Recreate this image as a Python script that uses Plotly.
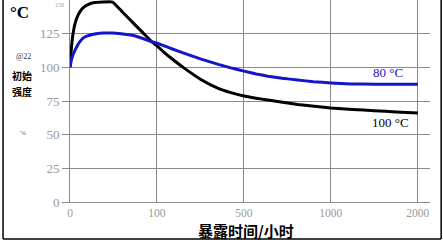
import numpy as np
import plotly.graph_objects as go

# Axis tick values (hours) and their evenly spaced positions (broken scale)
x_tick_hours = [0, 100, 500, 1000, 2000]
x_tick_labels = ["0", "100", "500", "1000", "2000"]
x_tick_pos = [0, 1, 2, 3, 4]
y_tick_vals = [0, 25, 50, 75, 100, 125]

# 100 °C series
black_hours = [0, 1, 2, 3.5, 6, 9.4, 14, 17.6, 22, 27, 38, 49, 60, 72, 84, 94, 100,
               130, 160, 227, 300, 382, 440, 500, 570, 638, 713, 810, 1000, 1250, 1500, 1750, 2000]
black_vals = [100, 110, 117, 125, 133, 139, 143.5, 145.5, 147, 148, 148.5, 148.5, 141.3, 133.4, 125.6, 119, 116,
              111.5, 107.5, 99.2, 91.2, 84.4, 81.2, 78.7, 77.1, 75.7, 74.2, 72.4, 69.8, 68.7, 67.8, 66.9, 66]

# 80 °C series
blue_hours = [0, 2, 5.9, 11.8, 17, 23.5, 30, 38.8, 48, 58.8, 70, 78.8, 94, 100,
              168, 227, 300, 382, 440, 500, 570, 638, 720, 810, 900, 1000, 1230, 1500, 2000]
blue_vals = [100, 106.5, 113, 119.5, 122.5, 124, 125, 125.5, 125.5, 125, 124, 122.5, 119, 118,
             113.8, 110.3, 106.3, 102.2, 99.6, 97.2, 95.1, 93.4, 91.9, 90.6, 89.3, 88.4, 87.7, 87.5, 87.5]


def to_pos(h):
    return np.interp(h, x_tick_hours, x_tick_pos)


fig = go.Figure()
fig.add_trace(go.Scatter(x=to_pos(black_hours), y=black_vals, mode="lines",
                         line=dict(color="#000000", width=3, shape="spline", smoothing=0.3),
                         hoverinfo="skip", showlegend=False))
fig.add_trace(go.Scatter(x=to_pos(blue_hours), y=blue_vals, mode="lines",
                         line=dict(color="#1414c8", width=3, shape="spline", smoothing=0.3),
                         hoverinfo="skip", showlegend=False))

grid = "#8a8a8a"
serif = "Liberation Serif, Times New Roman, serif"
cjk = "Noto Sans CJK SC, sans-serif"

fig.update_layout(
    width=443, height=243,
    margin=dict(l=70, r=13, t=0, b=41),
    paper_bgcolor="white", plot_bgcolor="white",
    xaxis=dict(range=[0, 4.14], tickvals=x_tick_pos, ticktext=x_tick_labels,
               showgrid=True, gridcolor=grid, gridwidth=1,
               showline=True, linecolor=grid, linewidth=1,
               ticks="", tickfont=dict(family=serif, size=11.5, color="#999999"),
               zeroline=False, fixedrange=True),
    yaxis=dict(range=[0, 150], tickvals=y_tick_vals,
               showgrid=True, gridcolor=grid, gridwidth=1,
               showline=True, linecolor=grid, linewidth=1,
               ticks="outside", ticklen=7, tickcolor=grid,
               tickfont=dict(family=serif, size=13, color="#999999"),
               zeroline=False, fixedrange=True),
    font=dict(family=serif),
)

# border (left, right, bottom)
fig.add_shape(type="line", xref="paper", yref="paper", x0=-0.186, x1=-0.186, y0=-0.183, y1=1.05,
              line=dict(color="black", width=1.5))
fig.add_shape(type="line", xref="paper", yref="paper", x0=1.031, x1=1.031, y0=-0.183, y1=1.05,
              line=dict(color="black", width=1.5))
fig.add_shape(type="line", xref="paper", yref="paper", x0=-0.186, x1=1.031, y0=-0.183, y1=-0.183,
              line=dict(color="black", width=1.5))

ann = [
    dict(text="150", x=-0.012, y=1.0, xanchor="right", yanchor="top",
         font=dict(family=serif, size=6, color="#999999")),
    dict(text="<b>°C</b>", x=-0.172, y=0.94, xanchor="left", yanchor="middle",
         font=dict(family=serif, size=17, color="black")),
    dict(text="@22", x=-0.155, y=0.72, xanchor="left", yanchor="middle",
         font=dict(family=serif, size=8, color="#333333")),
    dict(text="<b>初始</b>", x=-0.167, y=0.626, xanchor="left", yanchor="middle",
         font=dict(family=cjk, size=10, color="black")),
    dict(text="<b>强度</b>", x=-0.167, y=0.548, xanchor="left", yanchor="middle",
         font=dict(family=cjk, size=10, color="black")),
    dict(text="%", x=-0.145, y=0.34, xanchor="left", yanchor="middle",
         font=dict(family=serif, size=7, color="#4a7a6a")),
    dict(text="80 °C", x=0.882, y=0.64, xanchor="center", yanchor="middle",
         font=dict(family=serif, size=13, color="#1414c8")),
    dict(text="100 °C", x=0.889, y=0.396, xanchor="center", yanchor="middle",
         font=dict(family=serif, size=13, color="black")),
    dict(text="<b>暴露时间/小时</b>", x=0.488, y=-0.14, xanchor="center", yanchor="middle",
         font=dict(family=cjk, size=15, color="black")),
]
for a in ann:
    a.update(xref="paper", yref="paper", showarrow=False)
    fig.add_annotation(**a)

fig.write_html("out.html")
